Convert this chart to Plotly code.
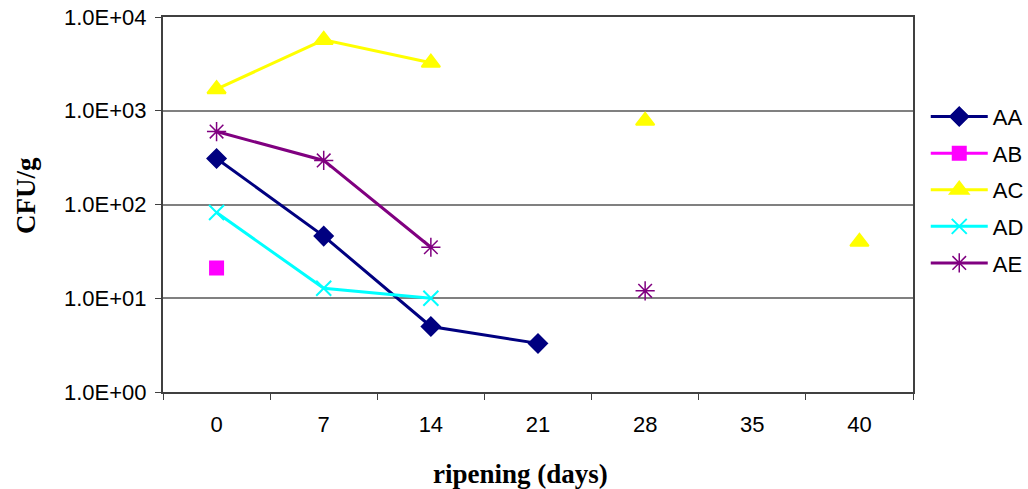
import plotly.graph_objects as go

days = ["0", "7", "14", "21", "28", "35", "40"]
AA = [310, 46, 5.0, 3.3, None, None, None]
AB = [21, None, None, None, None, None, None]
AC = [1700, 5700, 3250, None, 780, None, 40]
AD = [82, 12.8, 10, None, None, None, None]
AE = [600, 295, 35, None, 12, None, None]

y_ticks = [1, 10, 100, 1000, 10000]
y_ticktext = ["1.0E+00", "1.0E+01", "1.0E+02", "1.0E+03", "1.0E+04"]

series = [
    ("AA", AA, "#000080", "diamond", 14, 2),
    ("AB", AB, "#FF00FF", "square", 13, 2),
    ("AC", AC, "#FFFF00", "triangle-up", 16, 2),
    ("AD", AD, "#00FFFF", "x-thin-open", 15, 2),
    ("AE", AE, "#800080", "asterisk-open", 16, 1.5),
]

fig = go.Figure()
for name, vals, color, sym, size, mlw in series:
    fig.add_trace(go.Scatter(
        x=days, y=vals, name=name, mode="lines+markers",
        connectgaps=False, legendgroup=name,
        line=dict(color=color, width=3),
        marker=dict(symbol=sym, size=size, color=color,
                    line=dict(color=color, width=mlw)),
    ))

title_font = dict(family="Liberation Serif, Times New Roman", size=27, color="black")

fig.update_layout(
    width=1028, height=489,
    margin=dict(l=163, r=115, t=17, b=97, autoexpand=False),
    paper_bgcolor="white", plot_bgcolor="white",
    font=dict(family="Liberation Sans, Arial", size=22, color="black"),
    showlegend=True,
    legend=dict(x=1.017, y=0.79, xanchor="left", yanchor="top",
                font=dict(size=22), tracegroupgap=5, itemwidth=57,
                bgcolor="rgba(0,0,0,0)"),
    annotations=[
        dict(text="<b>ripening (days)</b>", xref="paper", yref="paper",
             x=0.476, y=-0.219, xanchor="center", yanchor="middle",
             showarrow=False, font=title_font),
        dict(text="<b>CFU/g</b>", xref="paper", yref="paper",
             x=-0.1827, y=0.525, xanchor="center", yanchor="middle",
             textangle=-90, showarrow=False, font=title_font),
    ],
)
fig.update_xaxes(
    type="category", categoryorder="array", categoryarray=days,
    range=[-0.5, 6.5], automargin=False,
    showline=True, linecolor="#404040", linewidth=2, mirror=True,
    ticks="outside", tickson="boundaries", ticklen=6, tickcolor="#404040",
    showgrid=False, tickfont=dict(size=22), ticklabelstandoff=12,
)
fig.update_yaxes(
    type="log", range=[0, 4], automargin=False,
    tickvals=y_ticks, ticktext=y_ticktext,
    showline=True, linecolor="#404040", linewidth=2, mirror=True,
    ticks="outside", ticklen=6, tickcolor="#404040",
    showgrid=True, gridcolor="#808080", gridwidth=1.5,
    tickfont=dict(size=22), ticklabelstandoff=4,
)

fig.write_html("out.html", config={"displayModeBar": False},
               post_script="document.body.style.margin='0px';")
